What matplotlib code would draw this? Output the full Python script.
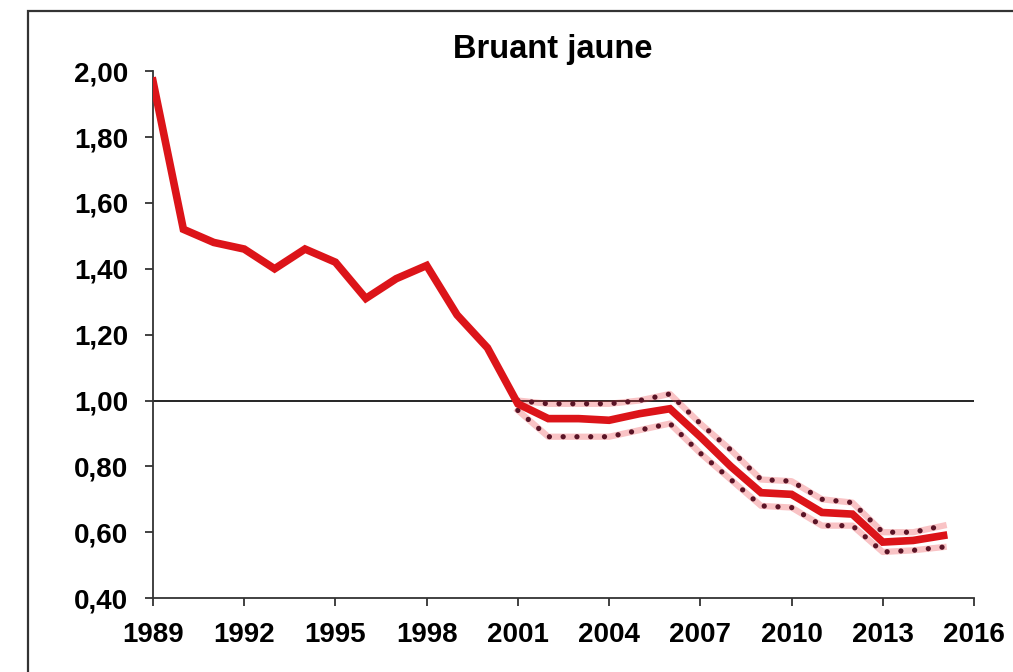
import matplotlib.pyplot as plt
from matplotlib.patches import Rectangle
from matplotlib.ticker import FuncFormatter

# yearly index, 1989 = reference start
years = list(range(1989, 2016))
index = [1.97, 1.52, 1.48, 1.46, 1.40, 1.46, 1.42, 1.31, 1.37, 1.41,
         1.26, 1.16, 0.99, 0.945, 0.945, 0.94, 0.96, 0.975, 0.89, 0.80,
         0.72, 0.715, 0.66, 0.655, 0.57, 0.575, 0.59]

# confidence band from 2001 on
ci_years = list(range(2001, 2016))
ci_upper = [1.00, 0.99, 0.99, 0.99, 1.00, 1.02, 0.93, 0.85, 0.76, 0.755,
            0.70, 0.69, 0.60, 0.60, 0.62]
ci_lower = [0.97, 0.89, 0.89, 0.89, 0.91, 0.93, 0.84, 0.76, 0.68, 0.675,
            0.62, 0.62, 0.54, 0.545, 0.555]

xticks = list(range(1989, 2017, 3))
yticks = [0.40, 0.60, 0.80, 1.00, 1.20, 1.40, 1.60, 1.80, 2.00]

plt.rcParams['font.family'] = ['Liberation Sans', 'DejaVu Sans']

fig = plt.figure(figsize=(10.13, 6.72), dpi=100)
# outer frame, cut off at the right and bottom edges
fig.patches.append(Rectangle((28 / 1013, -0.1), 1.2, 1.1 - 11 / 672,
                             transform=fig.transFigure, fill=False,
                             edgecolor='#333333', linewidth=1.6))
ax = fig.add_axes([0.151, 0.110, 0.8105, 0.784])

ax.axhline(1.0, color='black', linewidth=1.2, zorder=1)

red = '#dc1419'
for band in (ci_upper, ci_lower):
    ax.plot(ci_years, band, color='#ec3a40', linewidth=4.5, alpha=0.3,
            zorder=2)
    ax.plot(ci_years, band, color='#5a1426', linewidth=3.8,
            linestyle=(0, (0.01, 2.6)), dash_capstyle='round', zorder=3)

ax.plot(years, index, color=red, linewidth=5.5, solid_joinstyle='miter',
        zorder=4)

ax.set_xlim(1989, 2016)
ax.set_ylim(0.40, 2.00)
ax.set_xticks(xticks)
ax.set_yticks(yticks)
ax.yaxis.set_major_formatter(FuncFormatter(lambda v, p: f'{v:.2f}'.replace('.', ',')))

for side in ('top', 'right'):
    ax.spines[side].set_visible(False)
for side in ('left', 'bottom'):
    ax.spines[side].set_color('#333333')
    ax.spines[side].set_linewidth(1.3)

ax.tick_params(direction='out', length=6, width=1.3, color='#333333',
               labelsize=20)
ax.tick_params(axis='y', pad=12)
ax.tick_params(axis='x', pad=11)
for lab in ax.get_xticklabels() + ax.get_yticklabels():
    lab.set_fontweight('bold')

fig.text(0.546, 0.926, 'Bruant jaune', ha='center', va='center',
         fontsize=23.5, fontweight='bold')

fig.savefig('out.png', dpi=100)
